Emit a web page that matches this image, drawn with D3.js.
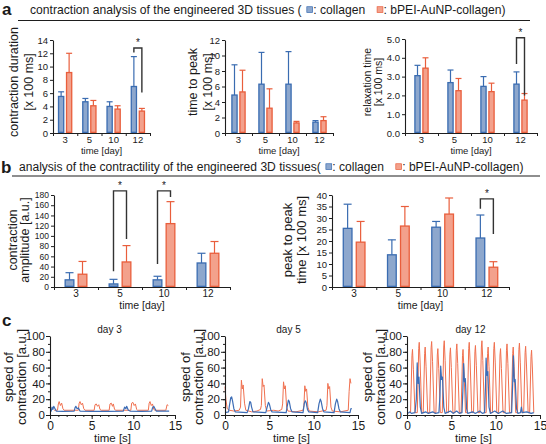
<!DOCTYPE html>
<html><head><meta charset="utf-8">
<script src="https://cdn.jsdelivr.net/npm/d3@7"></script>
<style>
body{margin:0;background:#fff}
svg{display:block}
text{font-family:"Liberation Sans",Arial,Helvetica,sans-serif;fill:#1a1a1a}
</style>
</head><body>
<svg id="chart" width="546" height="444"></svg>
<script>
// ---------------- data ----------------
const categories = ["3", "5", "10", "12"];
const seriesNames = ["collagen", "bPEI-AuNP-collagen"];

// panel a
const durColl = [5.5, 4.7, 4.0, 7.0],  durCollSD = [0.7, 0.5, 0.7, 4.5];
const durPei  = [9.1, 4.1, 3.6, 3.3],  durPeiSD  = [2.9, 0.8, 0.5, 0.4];
const ttpColl = [4.9, 6.3, 6.3, 1.4],  ttpCollSD = [3.9, 4.1, 4.2, 0.2];
const ttpPei  = [5.3, 3.2, 1.3, 1.6],  ttpPeiSD  = [2.8, 2.5, 0.2, 0.5];
const relColl = [3.05, 2.68, 2.48, 2.6], relCollSD = [0.55, 0.67, 0.52, 0.65];
const relPei  = [3.45, 2.25, 2.2, 1.75], relPeiSD  = [0.55, 0.65, 0.45, 0.35];
// panel b
const ampColl = [14, 6, 14, 47],    ampCollSD = [14, 9, 7, 19];
const ampPei  = [25, 49, 124, 66],  ampPeiSD  = [25, 32, 43, 23];
const p2pColl = [25.5, 14, 26, 21.3], p2pCollSD = [10.5, 6.5, 2.5, 10];
const p2pPei  = [19.5, 26.5, 31.7, 8.6], p2pPeiSD = [9, 8.5, 7, 2.4];

// significance brackets: [category, top, left leg end, right leg end]
const sigDur = [["12", 12.8, 12.1, 6.1]];
const sigRel = [["12", 5.07, 3.67, 2.0]];
const sigAmp = [["5", 188, 31, 94], ["10", 188, 45, 176]];
const sigP2p = [["12", 38.3, 34, 23]];

const ticksDur = [0, 2, 4, 6, 8, 10, 12, 14];
const ticksTtp = [0, 2, 4, 6, 8, 10, 12];
const ticksRel = [0, 1, 2, 3, 4, 5];
const ticksAmp = [0, 20, 40, 60, 80, 100, 120, 140, 160, 180];
const ticksP2p = [0, 5, 10, 15, 20, 25, 30, 35, 40];
const ticksSpeed = [0, 20, 40, 60, 80, 100];
const ticksTime = [0, 5, 10, 15];

// panel c traces [time s, speed a.u.]
const day3Coll = [[0,5],[0.15,5],[0.25,10],[0.35,7],[0.45,11],[0.6,8],[0.75,5],[1.5,4.5],[2.9,5],[3.0,9],[3.1,11],[3.25,8],[3.4,9],[3.6,5],[5,4.5],[7,4.5],[8.8,5],[8.95,10],[9.1,8],[9.2,11],[9.4,6],[9.6,5],[11,4.5],[12.2,5],[12.3,9],[12.45,11],[12.6,8],[12.75,5],[14.3,5]];
const day3Pei = [[0.5,6],[0.9,6],[1.0,14],[1.1,17],[1.25,12],[1.4,15],[1.55,8],[1.7,6],[3.4,6],[3.5,15],[3.6,17],[3.75,13],[3.9,15],[4.05,8],[4.2,6],[5.3,6],[5.4,13],[5.55,14],[5.7,11],[5.85,13],[6.0,7],[6.15,6],[7.1,6],[7.2,14],[7.35,15],[7.5,11],[7.6,14],[7.75,7],[7.9,6],[9.7,6],[9.8,15],[9.95,16],[10.1,12],[10.25,14],[10.4,7],[10.5,6],[11.8,6],[11.9,15],[12.0,17],[12.15,12],[12.3,14],[12.45,7],[12.6,6],[13.9,6],[14.05,13],[14.2,12]];
const day5Coll = [[0,3],[0.4,4],[0.5,12],[0.65,22],[0.75,23],[0.85,18],[1.0,8],[1.15,4],[2.5,3],[2.65,8],[2.8,17],[2.9,16],[3.0,10],[3.15,4],[4.6,3],[4.75,10],[4.9,16],[5.0,14],[5.15,7],[5.3,4],[6.9,3],[7.0,10],[7.15,19],[7.25,17],[7.4,8],[7.55,4],[8.8,3],[8.95,15],[9.05,18],[9.15,16],[9.3,7],[9.45,4],[10.45,3],[10.6,14],[10.75,20],[10.85,17],[11.0,8],[11.15,4],[12.3,3],[12.45,14],[12.6,20],[12.7,17],[12.85,8],[13.0,4],[14.1,3],[14.2,8],[14.3,8]];
const day5Pei = [[0,36],[0.1,20],[0.25,8],[0.5,6],[1.0,5],[1.6,6],[1.75,10],[1.85,44],[1.95,33],[2.05,38],[2.2,15],[2.35,6],[3.0,4],[3.6,5],[4.0,7],[4.1,12],[4.2,46],[4.3,36],[4.4,38],[4.55,12],[4.7,5],[5.5,6],[6.0,5],[6.4,7],[6.5,14],[6.6,42],[6.7,33],[6.8,37],[6.95,10],[7.1,5],[8,4],[8.8,6],[8.9,12],[9.0,37],[9.1,30],[9.2,33],[9.35,10],[9.5,5],[10.5,4],[11.4,6],[11.5,12],[11.6,40],[11.7,33],[11.8,36],[11.95,10],[12.1,5],[13,4],[13.9,6],[14.0,30],[14.1,46],[14.2,40]];
const day12Coll = [[0.1,2],[0.3,4],[0.5,2],[0.9,3],[1.05,20],[1.15,66],[1.25,40],[1.35,48],[1.5,10],[1.65,2],[2.1,4],[2.4,2],[2.9,4],[3.2,2],[3.6,3],[3.72,25],[3.8,62],[3.9,45],[4.0,48],[4.15,10],[4.3,2],[4.9,5],[5.2,2],[5.6,5],[5.9,2],[6.2,3],[6.3,30],[6.38,65],[6.48,42],[6.58,46],[6.72,8],[6.85,2],[7.4,4],[7.7,2],[8.2,5],[8.5,2],[8.75,3],[8.85,35],[8.92,72],[9.02,50],[9.12,55],[9.25,10],[9.4,2],[9.9,5],[10.3,2],[10.8,5],[11.2,2],[11.8,3],[11.92,40],[12.0,75],[12.1,42],[12.2,45],[12.35,8],[12.5,2],[12.8,3],[12.9,10],[13.0,3],[13.5,4],[14.0,2],[14.3,3]];
const day12Pei = [[0.2,3],[0.40,3],[0.56,75],[0.62,83],[0.72,58],[0.90,3],[1.16,3],[1.32,84],[1.38,92],[1.48,67],[1.66,3],[1.83,3],[1.99,78],[2.05,86],[2.15,61],[2.33,3],[2.56,3],[2.72,85],[2.78,93],[2.88,68],[3.06,3],[3.26,3],[3.42,76],[3.48,84],[3.58,59],[3.76,3],[3.98,3],[4.14,86],[4.20,94],[4.30,69],[4.48,3],[4.68,3],[4.84,77],[4.90,85],[5.00,60],[5.18,3],[5.40,3],[5.56,82],[5.62,90],[5.72,65],[5.90,3],[6.10,3],[6.26,75],[6.32,83],[6.42,58],[6.60,3],[6.80,3],[6.96,84],[7.02,92],[7.12,67],[7.30,3],[7.50,3],[7.66,80],[7.72,88],[7.82,63],[8.00,3],[8.23,3],[8.39,86],[8.45,94],[8.55,69],[8.73,3],[8.93,3],[9.09,78],[9.15,86],[9.25,61],[9.43,3],[9.63,3],[9.79,84],[9.85,92],[9.95,67],[10.13,3],[10.33,3],[10.49,76],[10.55,84],[10.65,59],[10.83,3],[11.06,3],[11.22,82],[11.28,90],[11.38,65],[11.56,3],[11.76,3],[11.92,78],[11.98,86],[12.08,61],[12.26,3],[12.46,3],[12.62,83],[12.68,91],[12.78,66],[12.96,3],[13.16,3],[13.32,79],[13.38,87],[13.48,62],[13.66,3],[13.83,3],[13.99,74],[14.05,82],[14.15,57],[14.30,3]];

// ---------------- drawing ----------------
const svg = d3.select("#chart");
const BLUE = "#3a6cb1", BLUEF = "#8da7cd", ORNG = "#e95e3c", ORNGF = "#f3a18c", AX = "#1e1e1e";

function styleAxis(sel, fs) {
  sel.attr("font-size", fs);
  sel.selectAll(".domain").attr("stroke", AX).attr("stroke-width", 1.1);
  sel.selectAll(".tick line").attr("stroke", AX).attr("stroke-width", 1);
  sel.selectAll(".tick text").attr("fill", "#1a1a1a");
}

function yLabel(g, lines, cy) {
  lines.forEach(l => {
    const t = g.append("text")
      .attr("transform", `translate(${l.x},${cy}) rotate(-90)`)
      .attr("text-anchor", "middle").attr("font-size", l.size).text(l.text);
    if (l.len) t.attr("textLength", l.len).attr("lengthAdjust", "spacingAndGlyphs");
  });
}

function titleLine(o) {
  svg.append("text").attr("x", o.lx).attr("y", o.ly).attr("font-weight", "bold")
    .attr("font-size", o.lsize).text(o.letter);
  const g = svg.append("g");
  function build(size) {
    g.selectAll("*").remove();
    let cx = o.x0;
    o.parts.forEach(p => {
      if (typeof p === "string") {
        const t = g.append("text").attr("x", cx).attr("y", o.y).attr("font-size", size)
          .text(p.replace(/ /g, "\u00a0"));
        cx += t.node().getComputedTextLength();
      } else {
        const s = size * 0.48;
        g.append("rect").attr("x", cx + size * 0.15).attr("y", o.y - size * 0.36 - s / 2)
          .attr("width", s).attr("height", s).attr("fill", p.f).attr("stroke", p.s).attr("stroke-width", 0.7);
        cx += s + size * 0.2;
      }
    });
    return cx - o.x0;
  }
  const w = build(o.size);
  build(o.size * (o.x1 - o.x0) / w);
  svg.append("line").attr("x1", o.ux0).attr("x2", o.ux1).attr("y1", o.uy).attr("y2", o.uy)
    .attr("stroke", AX).attr("stroke-width", 1.1);
}

function barPanel(o) {
  const g = svg.append("g");
  const x = d3.scaleBand().domain(categories).range([o.x0, o.x1]);
  const y = d3.scaleLinear().domain([0, o.max]).range([o.y0, o.yTop]);
  const series = [
    { v: o.coll, sd: o.collSD, f: BLUEF, s: BLUE, side: -1 },
    { v: o.pei,  sd: o.peiSD,  f: ORNGF, s: ORNG, side: 1 }
  ];
  const cx = c => x(c) + x.bandwidth() / 2 + (o.shift || 0);
  const barX = (se, c) => se.side < 0 ? cx(c) - o.gap / 2 - o.bw : cx(c) + o.gap / 2;
  series.forEach(se => {
    const d = categories.map((c, i) => ({ c, v: se.v[i], sd: se.sd[i] }));
    g.selectAll(null).data(d).enter().append("line")
      .attr("x1", e => barX(se, e.c) + o.bw / 2).attr("x2", e => barX(se, e.c) + o.bw / 2)
      .attr("y1", e => y(e.v)).attr("y2", e => y(e.v + e.sd))
      .attr("stroke", se.s).attr("stroke-width", o.ew);
    g.selectAll(null).data(d).enter().append("line")
      .attr("x1", e => barX(se, e.c) + o.bw / 2 - o.cap / 2).attr("x2", e => barX(se, e.c) + o.bw / 2 + o.cap / 2)
      .attr("y1", e => y(e.v + e.sd)).attr("y2", e => y(e.v + e.sd))
      .attr("stroke", se.s).attr("stroke-width", o.ew);
    g.selectAll(null).data(d).enter().append("rect")
      .attr("x", e => barX(se, e.c) + o.sw / 2).attr("y", e => y(e.v))
      .attr("width", o.bw - o.sw).attr("height", e => y(0) - y(e.v) - o.sw / 2)
      .attr("fill", se.f).attr("stroke", se.s).attr("stroke-width", o.sw);
  });
  g.append("g").attr("transform", `translate(${o.x0},0)`)
    .call(d3.axisLeft(y).tickValues(o.ticks).tickSize(3).tickSizeOuter(0).tickPadding(2))
    .call(s => styleAxis(s, o.tfs));
  const xb = d3.scaleLinear().domain([0, categories.length]).range([o.x0, o.x1]);
  g.append("g").attr("transform", `translate(0,${o.y0})`)
    .call(d3.axisBottom(xb).tickValues(d3.range(0, categories.length + 1)).tickSize(3).tickSizeOuter(0).tickFormat(""))
    .call(s => styleAxis(s, o.tfs));
  g.append("g").attr("transform", `translate(0,${o.y0})`)
    .call(d3.axisBottom(x).tickSize(0).tickPadding(o.xpad))
    .call(s => { styleAxis(s, o.xfs); s.select(".domain").remove(); });
  g.append("text").attr("x", (o.x0 + o.x1) / 2).attr("y", o.xlY).attr("text-anchor", "middle")
    .attr("font-size", o.xlfs).text("time [day]");
  (o.sig || []).forEach(([c, top, l, r]) => {
    const xl = barX(series[0], c) + o.bw / 2, xr = barX(series[1], c) + o.bw / 2;
    g.append("path").attr("d", `M${xl},${y(l)}V${y(top)}H${xr}V${y(r)}`)
      .attr("fill", "none").attr("stroke", "#333").attr("stroke-width", 1.4);
    g.append("text").attr("x", (xl + xr) / 2).attr("y", y(top) - 1.5).attr("text-anchor", "middle")
      .attr("font-size", 10).text("*");
  });
  yLabel(g, o.ylab, o.ylabY);
}

function tsPanel(o) {
  const g = svg.append("g");
  const x = d3.scaleLinear().domain([0, 15]).range([o.x0, o.x1]);
  const y = d3.scaleLinear().domain([0, 100]).range([o.y0, o.yTop]);
  const line = d3.line().x(d => x(d[0])).y(d => y(d[1]));
  g.append("path").datum(o.pei).attr("d", line).attr("fill", "none")
    .attr("stroke", "#f0704f").attr("stroke-width", 1).attr("stroke-linejoin", "round");
  g.append("path").datum(o.coll).attr("d", line).attr("fill", "none")
    .attr("stroke", "#3d6db6").attr("stroke-width", 1.2).attr("stroke-linejoin", "round");
  g.append("g").attr("transform", `translate(0,${o.y0})`)
    .call(d3.axisBottom(x).tickValues(d3.range(0, 16, 1)).tickSize(2).tickFormat(""))
    .call(s => { styleAxis(s, 10); s.select(".domain").remove(); });
  g.append("g").attr("transform", `translate(${o.x0},0)`)
    .call(d3.axisLeft(y).tickValues(d3.range(0, 101, 10)).tickSize(2).tickFormat(""))
    .call(s => { styleAxis(s, 10); s.select(".domain").remove(); });
  g.append("g").attr("transform", `translate(0,${o.y0})`)
    .call(d3.axisBottom(x).tickValues(ticksTime).tickSize(4).tickSizeOuter(0).tickPadding(2))
    .call(s => styleAxis(s, 12));
  g.append("g").attr("transform", `translate(${o.x0},0)`)
    .call(d3.axisLeft(y).tickValues(ticksSpeed).tickSize(4).tickSizeOuter(0).tickPadding(1))
    .call(s => styleAxis(s, 11.5));
  g.append("text").attr("x", (o.x0 + o.x1) / 2).attr("y", 442).attr("text-anchor", "middle")
    .attr("font-size", 11.5).text("time [s]");
  g.append("text").attr("x", (o.x0 + o.x1) / 2 - 3).attr("y", 333).attr("text-anchor", "middle")
    .attr("font-size", 10).text(o.title);
  yLabel(g, [
    { text: "speed of", x: o.lx, size: 13 },
    { text: "contraction [a.u.]", x: o.lx + 13, size: 13 }
  ], 377);
}

// titles
titleLine({ letter: "a", lx: 2, ly: 15, lsize: 17, x0: 30, x1: 506, y: 14, size: 13,
  parts: ["contraction analysis of the engineered 3D tissues ( ", { f: BLUEF, s: BLUE }, ": collagen   ",
          { f: ORNGF, s: ORNG }, ": bPEI-AuNP-collagen)"],
  ux0: 18, ux1: 530, uy: 20.5 });
titleLine({ letter: "b", lx: 1, ly: 173, lsize: 17, x0: 19, x1: 524, y: 171, size: 13,
  parts: ["analysis of the contractility of the engineered 3D tissues( ", { f: BLUEF, s: BLUE }, ": collagen   ",
          { f: ORNGF, s: ORNG }, ": bPEI-AuNP-collagen)"],
  ux0: 12, ux1: 540, uy: 176 });

const aCommon = { y0: 133, bw: 6.5, gap: 1.5, cap: 6, sw: 1.3, ew: 1.2, tfs: 9.5, xfs: 9.5, xpad: 3, xlY: 154, xlfs: 9.5, ylabY: 82 };
barPanel(Object.assign({}, aCommon, { x0: 53, x1: 150, yTop: 40, max: 14, ticks: ticksDur,
  coll: durColl, collSD: durCollSD, pei: durPei, peiSD: durPeiSD, sig: sigDur,
  ylab: [{ text: "contraction duration", x: 18, size: 12.5 }, { text: "[x 100 ms]", x: 33, size: 12.5 }] }));
barPanel(Object.assign({}, aCommon, { x0: 225, x1: 333, yTop: 40, max: 12, ticks: ticksTtp,
  coll: ttpColl, collSD: ttpCollSD, pei: ttpPei, peiSD: ttpPeiSD,
  ylab: [{ text: "time to peak", x: 197, size: 12.5 }, { text: "[x 100 ms]", x: 212, size: 12.5 }] }));
barPanel(Object.assign({}, aCommon, { x0: 405, x1: 537, yTop: 39, max: 5, ticks: ticksRel,
  coll: relColl, collSD: relCollSD, pei: relPei, peiSD: relPeiSD, sig: sigRel,
  ylab: [{ text: "relaxation time", x: 371, size: 10.5 }, { text: "[x 100 ms]", x: 382, size: 10.5 }] }));

const bCommon = { y0: 287, yTop: 195, bw: 10, gap: 3, cap: 8, sw: 1.3, ew: 1.2, tfs: 8.5, xfs: 10, xpad: 3, xlY: 309, xlfs: 10.5, ylabY: 240 };
barPanel(Object.assign({}, bCommon, { x0: 54, x1: 230, max: 180, ticks: ticksAmp,
  coll: ampColl, collSD: ampCollSD, pei: ampPei, peiSD: ampPeiSD, sig: sigAmp,
  ylab: [{ text: "contraction", x: 17, size: 12.5 }, { text: "amplitude [a.u.]", x: 29, size: 12.5 }] }));
barPanel(Object.assign({}, bCommon, { x0: 332, x1: 509, max: 40, ticks: ticksP2p, tfs: 9.5,
  coll: p2pColl, collSD: p2pCollSD, pei: p2pPei, peiSD: p2pPeiSD, sig: sigP2p,
  ylab: [{ text: "peak to peak", x: 292, size: 13 }, { text: "time [x 100 ms]", x: 306, size: 13 }] }));

// panel c
svg.append("text").attr("x", 2).attr("y", 326).attr("font-weight", "bold").attr("font-size", 17).text("c");
tsPanel({ x0: 50, x1: 175, y0: 415, yTop: 336, title: "day 3", lx: 13, coll: day3Coll, pei: day3Pei });
tsPanel({ x0: 225, x1: 358, y0: 415, yTop: 336, title: "day 5", lx: 190, coll: day5Coll, pei: day5Pei });
tsPanel({ x0: 407, x1: 540, y0: 415, yTop: 336, title: "day 12", lx: 372, coll: day12Coll, pei: day12Pei });
</script>
</body></html>
